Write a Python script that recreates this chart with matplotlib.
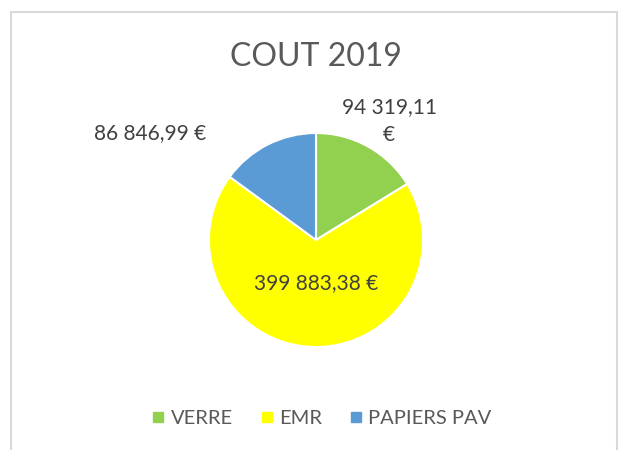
import matplotlib.pyplot as plt
from matplotlib.patches import Rectangle
from matplotlib.lines import Line2D

plt.rcParams['font.family'] = ['Lato', 'DejaVu Sans']

# données
categories = ['VERRE', 'EMR', 'PAPIERS PAV']
valeurs = [94319.11, 399883.38, 86846.99]
etiquettes = ['94 319,11\n€', '399 883,38 €', '86 846,99 €']
couleurs = ['#92D050', '#FFFF00', '#5B9BD5']

W, H = 621, 450
fig = plt.figure(figsize=(W / 100, H / 100), dpi=100)

# cadre gris
fig.patches.append(Rectangle((11 / W, -0.05), 606 / W, 1.05 - 12 / H,
                             transform=fig.transFigure, fill=False,
                             edgecolor='#d9d9d9', linewidth=1.5))

# camembert
cx, cy, r = 316, 240, 107
ax = fig.add_axes([(cx - r) / W, (H - cy - r) / H, 2 * r / W, 2 * r / H])
ax.pie(valeurs, colors=couleurs, startangle=90, counterclock=False, radius=1,
       wedgeprops=dict(edgecolor='white', linewidth=1.5))
ax.set_xlim(-1, 1)
ax.set_ylim(-1, 1)
ax.axis('off')

# étiquettes
pos = [(389, 121), (316, 283), (150, 133)]
for txt, (px, py) in zip(etiquettes, pos):
    ax.text((px - cx) / r, (cy - py) / r, txt, ha='center', va='center',
            fontsize=15, color='#404040', linespacing=1.45)

fig.text(cx / W, 1 - 57 / H, 'COUT 2019', ha='center', va='center',
         fontsize=23, color='#595959')

# légende
handles = [Line2D([], [], marker='s', linestyle='', markersize=7,
                  markerfacecolor=c, markeredgecolor=c) for c in couleurs]
fig.legend(handles, categories, loc='center', ncol=3,
           bbox_to_anchor=(322 / W, 1 - 418 / H), frameon=False,
           fontsize=14.5, labelcolor='#595959', handlelength=0.6,
           handletextpad=0.3, columnspacing=1.4)

fig.savefig('out.png', dpi=100)
